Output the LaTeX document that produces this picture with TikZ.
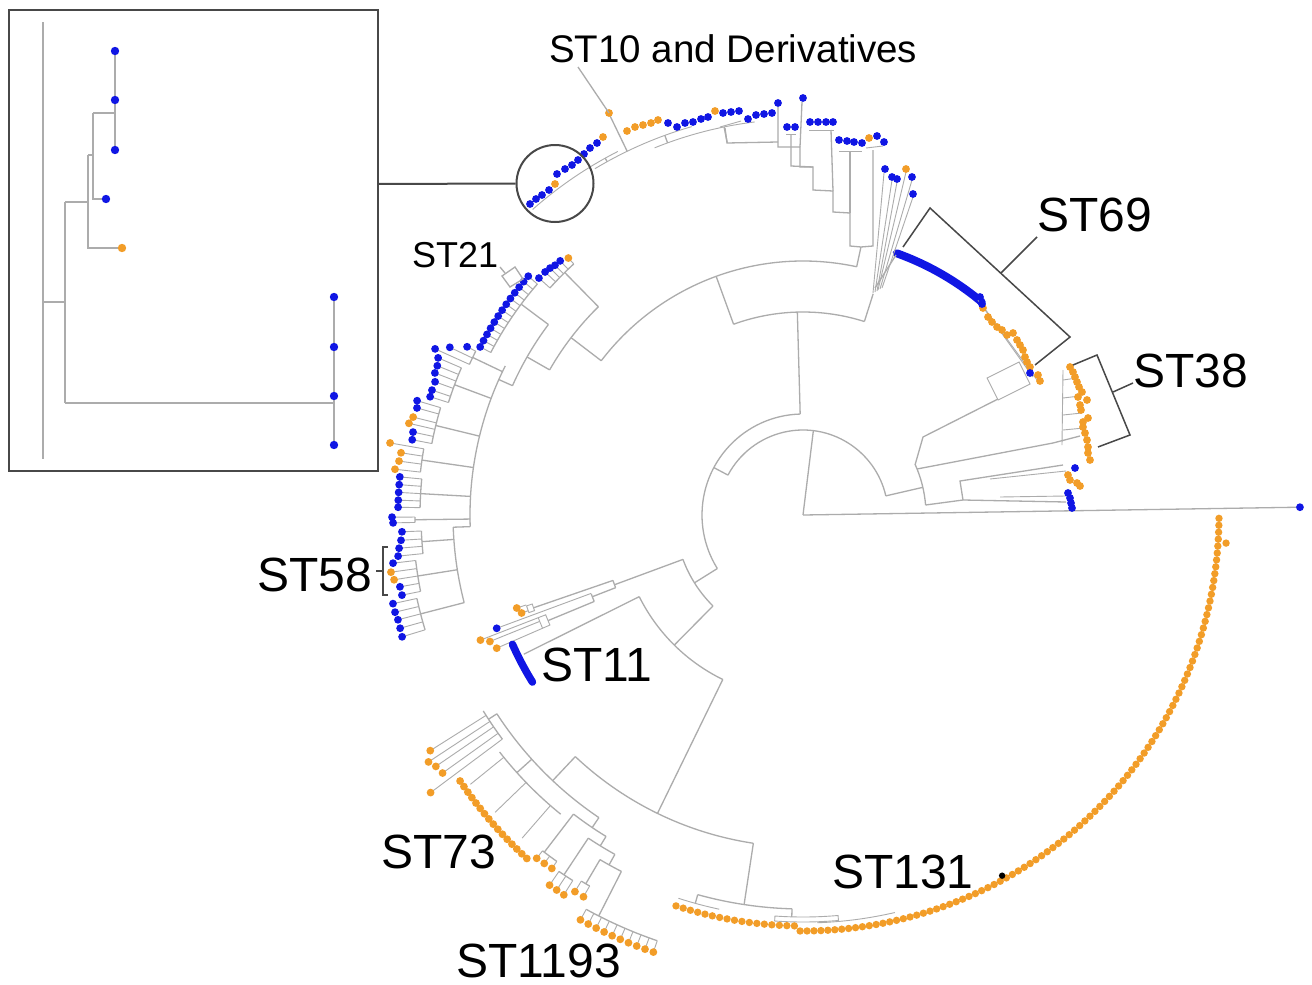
\documentclass[tikz,border=0pt]{standalone}
\usepackage{fontspec}
\setmainfont{Liberation Sans}
\definecolor{bdot}{RGB}{16,22,228}
\definecolor{odot}{RGB}{242,157,40}
\definecolor{tline}{RGB}{172,172,172}
\definecolor{dline}{RGB}{72,72,72}
\tikzset{
  tree/.style={draw=tline, line width=1.3pt},
  twig/.style={draw=tline, line width=0.9pt},
  frameline/.style={draw=dline, line width=1.5pt},
  biglabel/.style={anchor=base west, inner sep=0pt, font=\fontsize{48}{56}\selectfont},
}
\newcommand{\tArc}[3]{\draw[tree] (#2:#1) arc[start angle=#2, end angle=#3, radius=#1];}
\newcommand{\tTwArc}[3]{\draw[twig] (#2:#1) arc[start angle=#2, end angle=#3, radius=#1];}
\newcommand{\tRad}[3]{\draw[tree] (#1:#2) -- (#1:#3);}
\newcommand{\tGrp}[5]{\tRad{#2}{#1}{#3}\tArc{#3}{#4}{#5}}
\newcommand{\tLf}[4]{\draw[twig] (#1:#3) -- (#1:#2); \fill[#4] (#1:#2) circle[radius=3.9];}
\newcommand{\tBox}[4]{\draw[twig] (#3:#1) arc[start angle=#3, end angle=#4, radius=#1] -- (#4:#2) arc[start angle=#4, end angle=#3, radius=#2] -- cycle;}
\newcommand{\pB}[2]{\fill[bdot] (#1,#2) circle[radius=3.9];}
\newcommand{\pO}[2]{\fill[odot] (#1,#2) circle[radius=3.9];}
\begin{document}
\begin{tikzpicture}[x=1pt,y=-1pt]
\useasboundingbox (0,0) rectangle (1312,985);
\fill[white] (0,0) rectangle (1312,985);

%================ circular tree (polar around its centre) ================
\begin{scope}[shift={(803,515)}, yscale=-1]
  % backbone
  \tRad{0.9}{0}{493}
  \tRad{83}{0}{85}
  \tArc{85}{13}{152}
  \tRad{13}{85}{123}
  \tArc{123}{4.6}{24}
  \tRad{152}{85}{101}
  \tArc{101}{91.6}{212}
  \tRad{91.6}{101}{203}
  \tArc{203}{72.4}{110}
  \tRad{72.4}{203}{232}
  \tRad{110}{203}{254}
  \tArc{254}{77.8}{142.6}
  \tRad{77.8}{254}{274}
  % ST10 thin lines under the leaves
  \tRad{101.5}{380}{396}
  \tTwArc{396}{97}{112}
  \tRad{110}{396}{404}
  \tTwArc{404}{106}{121}
  \tRad{119}{404}{408}
  \tTwArc{408}{117}{131.5}
  \tRad{115.8}{404}{446}
  % ST21 / ST58
  \tRad{142.6}{254}{292}
  \tArc{292}{134.5}{150.2}
  \tRad{134.5}{292}{340}
  \tArc{340}{132.4}{138.1}
  \tLf{132.4}{348}{340}{odot}
  \foreach \a/\rr in {133.7/351.5,134.8/352,135.7/353.5,136.7/354.4,138.1/354.8} {\tLf{\a}{\rr}{340}{bdot}}
  \tRad{150.2}{292}{318}
  \tArc{318}{143.2}{156}
  \tGrp{318}{143.2}{352}{139}{152.5}
  \foreach \i in {0,...,12} {\pgfmathsetmacro\a{139+1.125*\i}\tLf{\a}{364}{352}{bdot}}
  \tRad{156}{318}{333}
  \tArc{333}{153.4}{182}
  \tGrp{333}{154.5}{366}{153.4}{155.7}
  \foreach \a/\rr in {153.4/375.7,154.6/391,155.7/403.7} {\tLf{\a}{\rr}{366}{bdot}}
  \tGrp{333}{159.5}{372}{156.7}{162.4}
  \foreach \a/\rr in {156.7/397.3,157.8/395,158.9/394.6,160.1/391.3,161.4/391.5,162.4/391.2} {\tLf{\a}{\rr}{372}{bdot}}
  \tGrp{333}{166.3}{378}{163.5}{169.1}
  \foreach \a/\rr/\cc in {163.5/402.5/bdot,164.5/400.6/bdot,165.9/402/odot,166.9/404.6/odot,168/398.7/bdot,169.1/398/bdot} {\tLf{\a}{\rr}{378}{\cc}}
  \tGrp{333}{171.8}{385}{170.1}{173.6}
  \foreach \a/\rr in {170.1/419.2,171.2/406.8,172.4/407.6,173.6/410.6} {\tLf{\a}{\rr}{385}{odot}}
  \tGrp{333}{176.8}{383}{174.6}{178.9}
  \foreach \a in {174.6,175.7,176.8,177.9,178.9} {\tLf{\a}{405}{383}{bdot}}
  \tGrp{333}{180.7}{388}{180.3}{181.1}
  \foreach \a/\rr in {180.3/411,181.1/410} {\tLf{\a}{\rr}{388}{bdot}}
  \tRad{182}{333}{350}
  \tArc{350}{182}{194.5}
  \tGrp{350}{184}{382}{182.4}{185.8}
  \foreach \a/\rr in {182.4/401.4,183.6/402.8,184.7/405.3,185.8/407} {\tLf{\a}{\rr}{382}{bdot}}
  \tGrp{350}{189}{390}{186.7}{191.3}
  \foreach \a/\rr/\cc in {186.7/412.8/bdot,187.9/416/odot,189/414/odot,190.1/409.4/bdot,191.3/409/bdot} {\tLf{\a}{\rr}{390}{\cc}}
  \tGrp{350}{194.5}{395}{192.2}{196.9}
  \foreach \a/\rr in {192.2/419.5,193.4/419.4,194.5/418.4,195.7/418.5,196.9/419} {\tLf{\a}{\rr}{395}{bdot}}
  % ST11
  \tRad{212}{101}{128}
  \tArc{128}{200.3}{225.3}
  \tRad{200.3}{128}{201}
  \tArc{201}{199}{201.2}
  \tRad{199}{201}{285}
  \tBox{285}{291}{198.2}{199.6}
  \tLf{198}{301}{291}{odot}
  \tLf{199.2}{298}{291}{odot}
  \tRad{201.2}{201}{226}
  \tArc{226}{200.4}{202.5}
  \tLf{200.3}{326.6}{226}{bdot}
  \tRad{202.5}{226}{276}
  \tBox{276}{284}{201.2}{203.5}
  \tLf{201.2}{346}{284}{odot}
  \tLf{202}{337.7}{284}{odot}
  \tLf{203.5}{334}{284}{odot}
  \tRad{225.3}{128}{183}
  \tArc{183}{206.5}{244}
  \tRad{206.5}{183}{312}
  \draw[bdot, line width=7.5pt, line cap=round] (204:318) arc[start angle=204, end angle=211.7, radius=318];
  % ST73 / ST1193
  \tRad{244}{183}{332}
  \tArc{332}{226.7}{261.4}
  \tRad{226.7}{332}{365}
  \tArc{365}{213}{236}
  \tGrp{365}{213}{375}{211.5}{216.7}
  \foreach \a/\rr in {212.3/441,213.4/448.6,214.4/445,215.6/443.3,216.7/464.5} {\tLf{\a}{\rr}{375}{odot}}
  \tGrp{365}{222}{385}{218}{231}
  \foreach \a in {219,224,229} {\draw[twig] (\a:385) -- (\a:428);}
  \foreach \i in {0,...,15} {\pgfmathsetmacro\a{217.8+0.893*\i}\pgfmathsetmacro\rr{434+0.45*\i}\fill[odot] (\a:\rr) circle[radius=3.9];}
  \tRad{236}{365}{377}
  \tArc{377}{232.5}{238.5}
  \tGrp{377}{232.5}{425}{232.2}{234.6}
  \foreach \a/\rr in {232.2/434.5,233.4/434,234.6/433.6} {\tLf{\a}{\rr}{425}{odot}}
  \tRad{238.5}{377}{388}
  \tArc{388}{236.4}{241}
  \tGrp{388}{236.4}{432}{235.6}{237.8}
  \foreach \a/\rr in {235.6/448.6,236.7/448.7,237.8/448.9} {\tLf{\a}{\rr}{432}{odot}}
  \tRad{241}{388}{400}
  \tArc{400}{239.5}{243}
  \tGrp{400}{239.5}{428}{238.8}{240.1}
  \foreach \a/\rr in {238.8/440.3,240.1/440.4} {\tLf{\a}{\rr}{428}{odot}}
  \tGrp{400}{243}{450}{241.2}{251.1}
  \foreach \i in {0,...,9} {\pgfmathsetmacro\a{241.2+1.1*\i}\tLf{\a}{462}{450}{odot}}
  % ST131
  \tRad{261.4}{332}{394}
  \tArc{394}{254.5}{268.4}
  \tRad{254.5}{394}{403}
  \tTwArc{403}{252}{258}
  \tRad{268.4}{394}{402}
  \tBox{402}{407}{266}{275}
  \tTwArc{408}{272}{283}
  \foreach \i in {0,...,16} {\pgfmathsetmacro\a{252+1.05*\i}\fill[odot] (\a:411) circle[radius=3.7];}
  \foreach \i in {0,...,94} {\pgfmathsetmacro\a{269.6+0.9568*\i}\fill[odot] (\a:416) circle[radius=3.7];}
  \fill[odot] (356.2:424) circle[radius=3.7];
  \fill[black] (298.9:412) circle[radius=3.2];
  % outgroup leaf
  \fill[bdot] (0.9:497) circle[radius=3.9];
  % ST69 blue run
  \draw[bdot, line width=8pt, line cap=round] (70.3:278) arc[start angle=70.3, end angle=50, radius=278];
\end{scope}

%================ ST10 internal lines ================
\draw[tree] (861,247) -- (873,246) -- (873,150);
\draw[tree] (861,247) -- (850,246) -- (850,213) -- (833,212) -- (833,191) -- (813,190) -- (813,167) -- (800,167) -- (800,147) -- (778,147) -- (778,107);
\draw[tree] (850,213) -- (850,152);
\draw[tree] (833,191) -- (831,130);
\draw[tree] (800,147) -- (802,102);
\draw[tree] (813,167) -- (791,166) -- (791,134);
\draw[twig] (866,148) -- (883,146);
\draw[twig] (839,151) -- (862,151);
\draw[twig] (809,130) -- (834,130);
\draw[twig] (786,134) -- (796,134);
\draw[tree] (778,142) -- (727,143) -- (725,128);
\draw[twig] (720,127) -- (741,121);
% fan to the right-hand ST10 leaves
\draw[twig] (873,293) -- (884,173);
\draw[twig] (875,292) -- (892,180);
\draw[twig] (877,291) -- (897,182);
\draw[twig] (878,290) -- (906,172);
\draw[twig] (880,289) -- (912,180);
\draw[twig] (882,288) -- (913,197);
\draw[tree] (875,288) -- (896,255);

%================ right cluster (ST38 and neighbours) ================
\draw[tree] (915,465) -- (923,437) -- (998,399);
\draw[twig] (987,378) -- (998,400) -- (1030,384) -- (1019,362) -- cycle;
\draw[tree] (917,469) -- (1053,443) -- (1080,436);
\draw[twig] (1062,445) -- (1063,370);
\draw[twig] (1063,380) -- (1077,378);
\draw[twig] (1063,398) -- (1080,396);
\draw[twig] (1063,415) -- (1082,413);
\draw[twig] (1063,430) -- (1084,428);
\draw[tree] (925.6,505) -- (963,500) -- (1066,502);
\draw[tree] (963,500) -- (960,481) -- (1063,465);
\draw[twig] (990,479) -- (1066,471);
\draw[twig] (1000,497) -- (1066,496);
% ST69 inner lines
\draw[twig] (978,300) -- (1033,377);
\draw[twig] (985,309) -- (1037,380);

%================ leaves given in picture coordinates ================
\foreach \x/\y in {530/204,536/199,542/195,549/190,557/174,565/169,572/165,578/160,584/154,590/148,597/143,668/123,677/127,685/123,693/122,701/119,708/117,723/113,731/112,739/111,748/119,756/115,764/114,772/113,778/103,803/98,787/127,795/127,810/122,818/122,826/122,833/122,839/140,847/141,854/142,862/143,877/136,884/142,885/169,892/177,897/179,912/177,913/194} {\pB{\x}{\y}}
\foreach \x/\y in {555/184,603/137,609/113,627/131,635/127,643/125,651/123,658/120,715/111,869/138,906/169} {\pO{\x}{\y}}
% ST69
\foreach \x/\y in {983/308,988/317,992/322,997/327,1002/330,1007/335,1013/333,1017/340,1020/345,1023/350,1025/357,1027/362,1030/367,1038/375,1040/381} {\pO{\x}{\y}}
\foreach \x/\y in {980/297,982/304,1030/373} {\pB{\x}{\y}}
% ST38 and below
\foreach \x/\y in {1070/367,1073/372,1075/377,1077/382,1079/387,1082/392,1078/397,1087/400,1080/405,1081/410,1088/418,1083/422,1083/427,1085/433,1087/440,1088/447,1088/453,1090/460,1068/475,1070/480,1077/483,1080/486} {\pO{\x}{\y}}
\foreach \x/\y in {1075/468,1068/493,1070/498,1071/503,1072/508} {\pB{\x}{\y}}

%================ brackets and labels ================
\draw[frameline] (903,247) -- (930,208) -- (1070,337) -- (1035,365);
\draw[frameline] (1073,365) -- (1097,355) -- (1130,435) -- (1098,447);
\draw[frameline] (388,547) -- (383,547) -- (383,595) -- (388,595);
\draw[tree] (502,276) -- (515,267) -- (523,279) -- (510,287) -- cycle;

\node[anchor=base west, inner sep=0pt, font=\fontsize{38.5}{46}\selectfont] (st10) at (549,62) {ST10 and Derivatives};
\node[biglabel] (st69) at (1037,231) {ST69};
\node[biglabel] (st38) at (1133,387) {ST38};
\node[anchor=base west, inner sep=0pt, font=\fontsize{36}{42}\selectfont] (st21) at (412,267) {ST21};
\node[biglabel] (st58) at (257,591) {ST58};
\node[biglabel] (st11) at (541,681) {ST11};
\node[biglabel] (st73) at (381,868) {ST73};
\node[biglabel] (st131) at (832,888) {ST131};
\node[biglabel] (st1193) at (456,977) {ST1193};

\coordinate (t10) at (578,67);
\coordinate (d10) at (609,113);
\draw[tree] (t10) -- (d10);
\coordinate (b69) at (1001,273);
\coordinate (l69) at (1037,237);
\draw[frameline] (b69) -- (l69);
\coordinate (b38) at (1113,392);
\coordinate (l38) at (1133,383);
\draw[frameline] (b38) -- (l38);
\coordinate (b58) at (383,571);
\coordinate (l58) at (376,571);
\draw[frameline] (b58) -- (l58);
\coordinate (l21) at (500,267);
\coordinate (b21) at (505,273);
\draw[tree] (l21) -- (b21);

%================ inset ================
\draw[dline, line width=2pt] (9,10) rectangle (378,471);
\draw[tree] (43,22) -- (43,459);
\draw[tree] (43,302) -- (65,302);
\draw[tree] (65,202) -- (65,403);
\draw[tree] (65,202) -- (88,202);
\draw[tree] (88,155) -- (88,248) -- (122,248);
\draw[tree] (88,155) -- (93,155);
\draw[tree] (93,113) -- (93,199) -- (106,199);
\draw[tree] (93,113) -- (115,113);
\draw[tree] (115,51) -- (115,150);
\draw[tree] (65,403) -- (334,403);
\draw[tree] (334,297) -- (334,445);
\foreach \y in {51,100,150} {\fill[bdot] (115,\y) circle[radius=4.2];}
\fill[bdot] (106,199) circle[radius=4.2];
\fill[odot] (122,248) circle[radius=4.2];
\foreach \y in {297,347,396,445} {\fill[bdot] (334,\y) circle[radius=4.2];}

\node[circle, draw=dline, line width=2pt, minimum size=77pt, inner sep=0pt] (zoomc) at (555,183.5) {};
\coordinate (insetR) at (378,184);
\draw[dline, line width=2pt] (insetR) -- (zoomc.west);
\end{tikzpicture}
\end{document}
